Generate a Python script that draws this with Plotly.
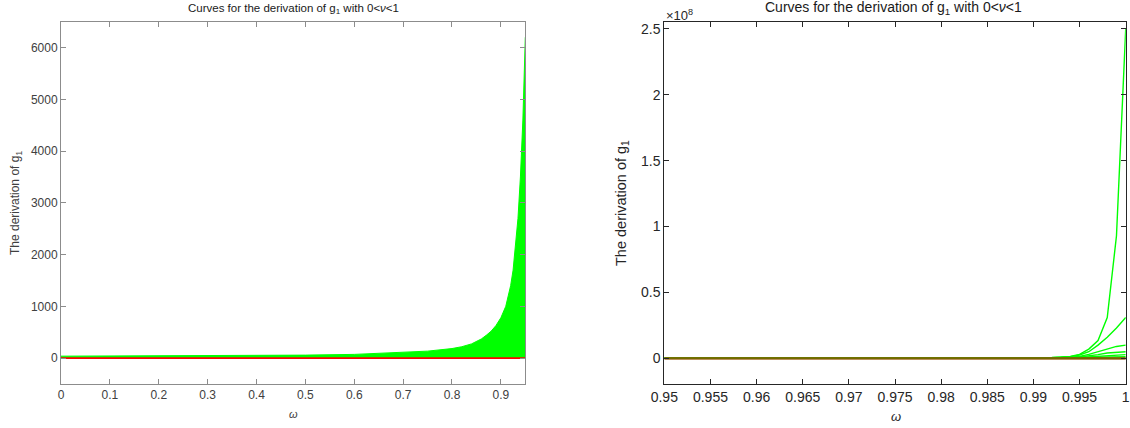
import plotly.graph_objects as go

# ---------------- data ----------------
# Left panel: upper envelope of the family of curves (0 < nu < 1)
omega_left = [0, 0.1, 0.2, 0.3, 0.4, 0.5, 0.6, 0.7, 0.75, 0.8, 0.82, 0.84, 0.86,
              0.87, 0.88, 0.89, 0.9, 0.91, 0.92, 0.925, 0.93, 0.935, 0.94, 0.945, 0.95]
envelope_left = [38, 40, 42, 45, 50, 58, 72, 105, 135, 185, 220, 275, 370,
                 440, 520, 630, 780, 1000, 1400, 1700, 2150, 2700, 3500, 4600, 6200]
red_left = [0] * len(omega_left)

# Right panel: zoom on 0.95 < omega < 1 (values in units of 1e8)
omega_right = [0.95, 0.96, 0.97, 0.98, 0.985, 0.99, 0.991, 0.992, 0.993, 0.994,
               0.995, 0.996, 0.997, 0.998, 0.999, 1.0]
curve1 = [0, 0, 0, 0.0005, 0.001, 0.003, 0.004, 0.006, 0.009, 0.015, 0.03, 0.07, 0.135, 0.31, 0.93, 2.5]
curve2 = [0, 0, 0, 0.0004, 0.001, 0.002, 0.003, 0.005, 0.008, 0.013, 0.025, 0.05, 0.10, 0.16, 0.23, 0.31]
curve3 = [0, 0, 0, 0.0003, 0.0008, 0.0015, 0.002, 0.003, 0.005, 0.008, 0.015, 0.03, 0.05, 0.075, 0.09, 0.10]
curve4 = [0, 0, 0, 0.0002, 0.0005, 0.001, 0.0015, 0.002, 0.003, 0.005, 0.01, 0.018, 0.028, 0.04, 0.047, 0.05]
curve5 = [0, 0, 0, 0.0001, 0.0003, 0.0006, 0.001, 0.0015, 0.002, 0.003, 0.006, 0.01, 0.016, 0.022, 0.026, 0.028]
curve6 = [0, 0, 0, 0, 0.0001, 0.0003, 0.0005, 0.0007, 0.001, 0.0015, 0.003, 0.005, 0.008, 0.011, 0.012, 0.012]
zero_right = [0] * len(omega_right)
right_curves = [curve1, curve2, curve3, curve4, curve5, curve6]

x_ticks_left = [0, 0.1, 0.2, 0.3, 0.4, 0.5, 0.6, 0.7, 0.8, 0.9]
y_ticks_left = [0, 1000, 2000, 3000, 4000, 5000, 6000]
x_ticks_right = [0.95, 0.955, 0.96, 0.965, 0.97, 0.975, 0.98, 0.985, 0.99, 0.995, 1.0]
x_tick_labels_right = ["0.95", "0.955", "0.96", "0.965", "0.97", "0.975", "0.98",
                       "0.985", "0.99", "0.995", "1"]
y_ticks_right = [0, 0.5, 1, 1.5, 2, 2.5]
y_tick_labels_right = ["0", "0.5", "1", "1.5", "2", "2.5"]
SCALE = 1e8

# ---------------- figure ----------------
W, H = 1130, 428
GREEN = "#00ff00"
RED = "#ff0000"
FONT = "Liberation Sans, Arial, sans-serif"

fig = go.Figure()

# left panel
fig.add_trace(go.Scatter(x=omega_left, y=envelope_left, mode="lines",
                         line=dict(color=GREEN, width=1), fill="tozeroy",
                         fillcolor=GREEN, xaxis="x", yaxis="y", showlegend=False))
fig.add_trace(go.Scatter(x=omega_left, y=red_left, mode="lines",
                         line=dict(color=RED, width=1.6), xaxis="x", yaxis="y",
                         showlegend=False))

# right panel
for c in right_curves:
    fig.add_trace(go.Scatter(x=omega_right, y=[v * SCALE for v in c], mode="lines",
                             line=dict(color=GREEN, width=1.4), xaxis="x2", yaxis="y2",
                             showlegend=False))
fig.add_trace(go.Scatter(x=omega_right, y=zero_right, mode="lines",
                         line=dict(color=RED, width=2.2), xaxis="x2", yaxis="y2",
                         showlegend=False))
fig.add_trace(go.Scatter(x=omega_right, y=zero_right, mode="lines",
                         line=dict(color="rgba(0,190,0,0.55)", width=2.2), xaxis="x2", yaxis="y2",
                         showlegend=False))

ydom = [(H - 384) / H, (H - 21.7) / H]
left_axis_col = "#8c8c8c"
left_text_col = "#404040"
right_axis_col = "#262626"

common = dict(showgrid=False, zeroline=False, showline=True, mirror="ticks",
              ticks="inside", ticklen=5, tickwidth=1, automargin=False,
              ticklabeloverflow="allow")

fig.update_layout(
    width=W, height=H,
    margin=dict(l=0, r=0, t=0, b=0),
    paper_bgcolor="white", plot_bgcolor="white",
    font=dict(family=FONT),
    xaxis=dict(domain=[61 / W, 525.3 / W], range=[0, 0.95], tickvals=x_ticks_left,
               linecolor=left_axis_col, tickcolor=left_axis_col,
               tickfont=dict(size=12, color=left_text_col), anchor="y", **common),
    yaxis=dict(domain=ydom, range=[-500, 6500], tickvals=y_ticks_left,
               linecolor=left_axis_col, tickcolor=left_axis_col,
               tickfont=dict(size=12, color=left_text_col), anchor="x", **common),
    xaxis2=dict(domain=[664.3 / W, 1125.8 / W], range=[0.95, 1.00001], tickvals=x_ticks_right,
                ticktext=x_tick_labels_right,
                linecolor=right_axis_col, tickcolor=right_axis_col,
                tickfont=dict(size=14, color=right_axis_col), anchor="y2", **common),
    yaxis2=dict(domain=ydom, range=[-0.195 * SCALE, 2.555 * SCALE],
                tickvals=[v * SCALE for v in y_ticks_right], ticktext=y_tick_labels_right,
                linecolor=right_axis_col, tickcolor=right_axis_col,
                tickfont=dict(size=14, color=right_axis_col), anchor="x2", **common),
)

def px(x, y):
    return x / W, 1 - y / H

ann = []
# titles
tx, ty = px(293, 9)
ann.append(dict(x=tx, y=ty, text="Curves for the derivation of g<sub>1</sub> with 0&lt;<i>ν</i>&lt;1",
                font=dict(size=11.5, color="#1a1a1a")))
tx, ty = px(893, 8)
ann.append(dict(x=tx, y=ty, text="Curves for the derivation of g<sub>1</sub> with 0&lt;<i>ν</i>&lt;1",
                font=dict(size=14, color="#1a1a1a")))
# x titles
tx, ty = px(293, 414)
ann.append(dict(x=tx, y=ty, text="<i>ω</i>", font=dict(size=11, color=left_text_col)))
tx, ty = px(896, 416)
ann.append(dict(x=tx, y=ty, text="<i>ω</i>", font=dict(size=13, color=right_axis_col)))
# y titles
tx, ty = px(16, 203)
ann.append(dict(x=tx, y=ty, text="The derivation of g<sub>1</sub>", textangle=-90,
                font=dict(size=12, color=left_text_col)))
tx, ty = px(622, 203)
ann.append(dict(x=tx, y=ty, text="The derivation of g<sub>1</sub>", textangle=-90,
                font=dict(size=14.5, color=right_axis_col)))
# exponent label
tx, ty = px(664, 15)
ann.append(dict(x=tx, y=ty, text="×10<sup>8</sup>", xanchor="left",
                font=dict(size=13, color=right_axis_col)))

for a in ann:
    a.update(xref="paper", yref="paper", showarrow=False)
    a.setdefault("xanchor", "center")
    a.setdefault("yanchor", "middle")
fig.update_layout(annotations=ann)

fig.write_html("out.html", config={"displayModeBar": False},
               post_script="document.body.style.margin='0';document.body.style.overflow='hidden';")
